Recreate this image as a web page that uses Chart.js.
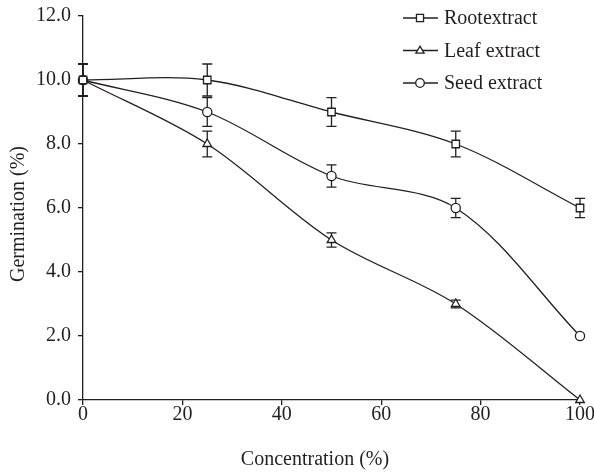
<!DOCTYPE html>
<html><head><meta charset="utf-8">
<script src="https://cdn.jsdelivr.net/npm/chart.js@4"></script>
<style>html,body{margin:0;padding:0;background:#fff}#wrap{width:594px;height:473px}</style>
</head><body><div id="wrap"><canvas id="c" width="594" height="473"></canvas></div>
<script>
const concentration = [0, 25, 50, 75, 100];
const rootValues = [10, 10, 9, 8, 6];
const rootErrors = [0.5, 0.5, 0.45, 0.4, 0.3];
const leafValues = [10, 8, 5, 3, 0];
const leafErrors = [0.5, 0.4, 0.22, 0.12, 0];
const seedValues = [10, 9, 7, 6, 2];
const seedErrors = [0.5, 0.45, 0.35, 0.3, 0];
const seriesLabels = ['Rootextract', 'Leaf extract', 'Seed extract'];
const xTitle = 'Concentration (%)';
const yTitle = 'Germination (%)';

const INK = '#231f20';
const FONT = 'Liberation Serif';
const FS = 20;

function pts(vals){ return concentration.map((x,i)=>({x:x,y:vals[i]})); }

const errorSets = [rootErrors, leafErrors, seedErrors];

const errorBars = {
  id:'errorBars',
  beforeDatasetsDraw(chart){
    const ctx = chart.ctx, xs = chart.scales.x, ys = chart.scales.y;
    ctx.save();
    ctx.strokeStyle = INK; ctx.lineWidth = 1.3;
    chart.data.datasets.forEach((ds,di)=>{
      const errs = errorSets[di];
      ds.data.forEach((p,i)=>{
        const e = errs[i]; if(!e) return;
        const px = xs.getPixelForValue(p.x);
        const t = ys.getPixelForValue(p.y+e), b = ys.getPixelForValue(p.y-e);
        ctx.beginPath();
        ctx.moveTo(px,t); ctx.lineTo(px,b);
        ctx.moveTo(px-5,t); ctx.lineTo(px+5,t);
        ctx.moveTo(px-5,b); ctx.lineTo(px+5,b);
        ctx.stroke();
      });
    });
    ctx.restore();
  }
};

function marker(ctx, style, x, y, r){
  ctx.beginPath();
  if(style==='rect'){ const s=r*Math.SQRT1_2; ctx.rect(x-s,y-s,2*s,2*s); }
  else if(style==='triangle'){ ctx.moveTo(x,y-r); ctx.lineTo(x+r*0.95,y+r*0.6); ctx.lineTo(x-r*0.95,y+r*0.6); ctx.closePath(); }
  else { ctx.arc(x,y,r,0,Math.PI*2); }
  ctx.fillStyle='#fff'; ctx.fill(); ctx.stroke();
}

const legendAndTitles = {
  id:'customLegend',
  afterDraw(chart){
    const ctx = chart.ctx;
    ctx.save();
    ctx.strokeStyle = INK; ctx.lineWidth = 1.3;
    chart.data.datasets.forEach((ds,i)=>{
      const y = 18 + i*32.5;
      ctx.beginPath(); ctx.moveTo(403,y); ctx.lineTo(438,y); ctx.stroke();
      marker(ctx, ds.pointStyle, 420, y, ds.pointStyle==='rect'?5:4.3);
      ctx.font = FS + 'px "' + FONT + '"';
      ctx.fillStyle = INK; ctx.textBaseline = 'middle'; ctx.textAlign = 'left';
      ctx.fillText(ds.label, 444, y+1);
    });
    // axis titles
    ctx.font = FS + 'px "' + FONT + '"';
    ctx.fillStyle = INK; ctx.textAlign = 'center'; ctx.textBaseline = 'middle';
    ctx.fillText(xTitle, 315, 460);
    ctx.translate(19, 214); ctx.rotate(-Math.PI/2);
    ctx.fillText(yTitle, 0, 0);
    ctx.restore();
  }
};

const common = {borderColor:INK, borderWidth:1.3, pointBackgroundColor:'#fff', pointBorderColor:INK, pointBorderWidth:1.3, tension:0.33, fill:false};

new Chart(document.getElementById('c'), {
  type:'line',
  data:{datasets:[
    Object.assign({label:seriesLabels[0], data:pts(rootValues), pointStyle:'rect', pointRadius:5.3}, common),
    Object.assign({label:seriesLabels[1], data:pts(leafValues), pointStyle:'triangle', pointRadius:5}, common),
    Object.assign({label:seriesLabels[2], data:pts(seedValues), pointStyle:'circle', pointRadius:4.6}, common)
  ]},
  options:{
    responsive:false, animation:false, clip:false,
    layout:{padding:{top:16,right:14,left:0,bottom:0}},
    plugins:{legend:{display:false}, tooltip:{enabled:false}},
    scales:{
      x:{type:'linear', min:0, max:100,
        ticks:{stepSize:20, color:INK, font:{family:FONT,size:FS}, padding:-2, maxRotation:0},
        grid:{drawOnChartArea:false, drawTicks:true, tickLength:5, color:INK, lineWidth:1.3},
        border:{display:true, color:INK, width:1.3},
        afterFit(s){ s.height = 73; }
      },
      y:{min:0, max:12,
        ticks:{stepSize:2, color:INK, font:{family:FONT,size:FS,lineHeight:0.8}, padding:7, callback:v=>v.toFixed(1)},
        grid:{drawOnChartArea:false, drawTicks:true, tickLength:5, color:INK, lineWidth:1.3},
        border:{display:true, color:INK, width:1.3},
        afterFit(s){ s.width = 83; }
      }
    }
  },
  plugins:[errorBars, legendAndTitles]
});
</script></body></html>
